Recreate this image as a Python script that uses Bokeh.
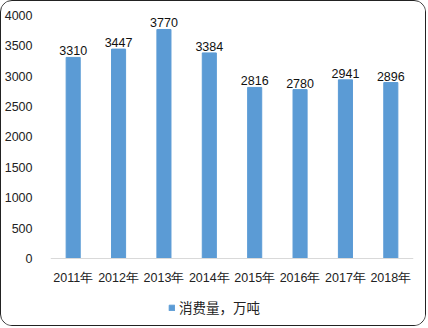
from bokeh.plotting import figure
from bokeh.models import FactorRange, Range1d, FixedTicker, Legend, LegendItem, ColumnDataSource
from bokeh.core.properties import value
from bokeh.embed import file_html
from bokeh.resources import INLINE

years = ["2011年", "2012年", "2013年", "2014年", "2015年", "2016年", "2017年", "2018年"]
consumption = [3310, 3447, 3770, 3384, 2816, 2780, 2941, 2896]
labels = [str(v) for v in consumption]
y_ticks = [0, 500, 1000, 1500, 2000, 2500, 3000, 3500, 4000]
series_name = "消费量，万吨"

src = ColumnDataSource(dict(x=years, y=consumption, t=labels))

FONT = "Liberation Sans"

p = figure(width=426, height=326, x_range=FactorRange(*years, range_padding=0),
           y_range=Range1d(-1070, 4000), output_backend="svg", toolbar_location=None,
           min_border_left=49, min_border_right=14, min_border_top=14, min_border_bottom=4)
p.styles = {"border": "1px solid #222", "border-radius": "12px", "overflow": "hidden", "background": "white"}

r = p.vbar(x="x", top="y", width=0.31, source=src, color="#5B9BD5")
p.text(x="x", y="y", text="t", source=src, text_align="center", text_baseline="bottom",
       y_offset=-2, text_font_size="12.5px", text_color="#111", text_font=value(FONT))

p.xgrid.visible = False
p.ygrid.visible = False
p.outline_line_color = None

p.yaxis.ticker = FixedTicker(ticks=y_ticks)
p.yaxis.axis_line_color = None
p.yaxis.major_tick_line_color = None
p.yaxis.minor_tick_line_color = None
p.yaxis.major_label_text_font_size = "12.5px"
p.yaxis.major_label_text_font = FONT
p.yaxis.major_label_text_color = "#222"
p.yaxis.major_label_standoff = 12

p.xaxis.fixed_location = 0
p.xaxis.axis_line_color = "#D9D9D9"
p.xaxis.axis_line_width = 1
p.xaxis.major_tick_line_color = None
p.xaxis.minor_tick_line_color = None
p.xaxis.major_label_text_font_size = "12.5px"
p.xaxis.major_label_text_font = FONT
p.xaxis.major_label_text_color = "#222"
p.xaxis.major_label_standoff = 7

legend = Legend(items=[LegendItem(label=series_name, renderers=[r])], location=(118, 6),
                orientation="horizontal", border_line_color=None, background_fill_alpha=0,
                label_text_font_size="13.5px", label_text_font="Noto Sans CJK SC",
                label_text_color="#222", glyph_width=7, glyph_height=7, padding=2, margin=0,
                label_standoff=4, label_height=14)
p.add_layout(legend, "center")

open("out.html", "w").write(file_html(p, INLINE))
